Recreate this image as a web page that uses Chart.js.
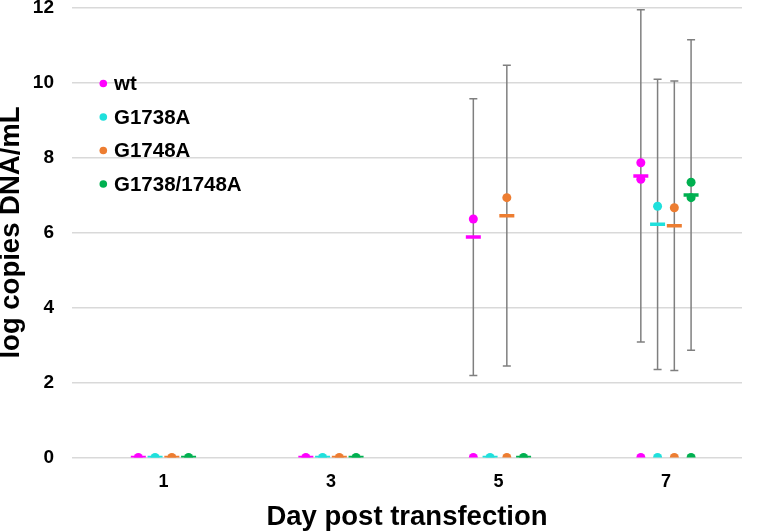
<!DOCTYPE html>
<html>
<head>
<meta charset="utf-8">
<script src="https://cdn.jsdelivr.net/npm/chart.js@4.4.1/dist/chart.umd.min.js"></script>
<style>
  html, body { margin: 0; padding: 0; background: #fff; }
  #wrap { width: 770px; height: 531px; }
</style>
</head>
<body>
<div id="wrap"><canvas id="dnaChart" width="770" height="531"></canvas></div>
<script>
/* --- Data --- */
var DAYS = ["1", "3", "5", "7"];
var SERIES = ["wt", "G1738A", "G1748A", "G1738/1748A"];
var COLORS = ["#FF00FF", "#1FE0DC", "#ED7D31", "#00B050"];
var Y_TICKS = [0, 2, 4, 6, 8, 10, 12];

// individual samples, one list per day
var WT_POINTS = [[0], [0], [6.36, 0], [7.86, 7.42, 0]];
var G1738_POINTS = [[0], [0], [0], [6.70, 0]];
var G1748_POINTS = [[0], [0], [6.93, 0], [6.66, 0]];
var DOUBLE_POINTS = [[0], [0], [0], [7.34, 6.93, 0]];

// group means (the short bars) and error bar half-lengths
var WT_MEAN = [0, 0, 5.88, 7.51];
var G1738_MEAN = [0, 0, 0, 6.22];
var G1748_MEAN = [0, 0, 6.45, 6.18];
var DOUBLE_MEAN = [0, 0, 0, 7.0];

var WT_SD = [0, 0, 3.69, 4.43];
var G1738_SD = [0, 0, 0, 3.87];
var G1748_SD = [0, 0, 4.01, 3.86];
var DOUBLE_SD = [0, 0, 0, 4.14];

var POINTS = [WT_POINTS, G1738_POINTS, G1748_POINTS, DOUBLE_POINTS];
var MEANS = [WT_MEAN, G1738_MEAN, G1748_MEAN, DOUBLE_MEAN];
var SDS = [WT_SD, G1738_SD, G1748_SD, DOUBLE_SD];

/* --- Helpers --- */
var OFFSETS = [-0.15, -0.05, 0.05, 0.15];
var FONT = "'Liberation Sans', Arial, Helvetica, sans-serif";

function pointsData(lists, k) {
  var out = [];
  lists.forEach(function (vals, i) {
    vals.forEach(function (v) {
      out.push({ x: i + 1 + OFFSETS[k], y: v });
    });
  });
  return out;
}

function meanData(means, k) {
  return means.map(function (m, i) {
    return { x: i + 1 + OFFSETS[k], y: m };
  });
}

function errorData(means, sds, k) {
  var out = [];
  means.forEach(function (m, i) {
    if (!sds[i]) return;
    var x = i + 1 + OFFSETS[k];
    out.push({ x: x, y: m - sds[i] }, { x: x, y: m + sds[i] }, { x: x, y: null });
  });
  return out;
}

/* --- Datasets --- */
var datasets = [];
SERIES.forEach(function (name, k) {
  datasets.push({
    label: name + " error",
    data: errorData(MEANS[k], SDS[k], k),
    showLine: true,
    spanGaps: false,
    borderColor: "#7F7F7F",
    borderWidth: 1.5,
    pointStyle: "line",
    pointRadius: 4,
    pointBorderWidth: 1.5,
    pointBorderColor: "#7F7F7F",
    order: 3,
  });
  datasets.push({
    label: name,
    data: pointsData(POINTS[k], k),
    pointStyle: "circle",
    pointRadius: 4.5,
    pointBackgroundColor: COLORS[k],
    pointBorderWidth: 0,
    order: 2,
  });
  datasets.push({
    label: name + " mean",
    data: meanData(MEANS[k], k),
    pointStyle: "line",
    pointRadius: 7.5,
    pointBorderColor: COLORS[k],
    pointBorderWidth: 3.5,
    order: 1,
  });
});

/* --- Legend drawn inside the plot area --- */
var insideLegend = {
  id: "insideLegend",
  afterDatasetsDraw: function (chart) {
    var ctx = chart.ctx;
    var area = chart.chartArea;
    ctx.save();
    ctx.font = "bold 20.5px " + FONT;
    ctx.textBaseline = "middle";
    ctx.textAlign = "left";
    SERIES.forEach(function (name, k) {
      var y = area.top + 76 + k * 33.5;
      ctx.fillStyle = COLORS[k];
      ctx.beginPath();
      ctx.arc(area.left + 31.3, y, 3.8, 0, Math.PI * 2);
      ctx.fill();
      ctx.fillStyle = "#000";
      ctx.fillText(name, area.left + 42, y + 1);
    });
    ctx.restore();
  },
};

Chart.defaults.font.family = FONT;
Chart.defaults.color = "#000";

new Chart(document.getElementById("dnaChart"), {
  type: "scatter",
  data: { datasets: datasets },
  plugins: [insideLegend],
  options: {
    responsive: false,
    animation: false,
    layout: { autoPadding: false, padding: { top: 7.5, right: 28, bottom: 0, left: 0 } },
    plugins: {
      legend: { display: false },
      tooltip: { enabled: false },
    },
    scales: {
      x: {
        type: "linear",
        min: 0.454,
        max: 4.454,
        afterBuildTicks: function (scale) {
          scale.ticks = DAYS.map(function (d, i) {
            return { value: i + 1 };
          });
        },
        afterFit: function (scale) {
          scale.height = 73.5;
          scale.paddingLeft = 0;
          scale.paddingRight = 0;
        },
        grid: { display: false, drawTicks: false },
        border: { display: false },
        ticks: {
          autoSkip: false,
          maxRotation: 0,
          padding: 14,
          font: { size: 18, weight: "bold" },
          callback: function (v) {
            return DAYS[v - 1];
          },
        },
        title: {
          display: true,
          text: "Day post transfection",
          font: { size: 27.5, weight: "bold", lineHeight: 1 },
          padding: { top: 0, bottom: 0 },
        },
      },
      y: {
        min: 0,
        max: 12,
        afterBuildTicks: function (scale) {
          scale.ticks = Y_TICKS.map(function (v) {
            return { value: v };
          });
        },
        afterFit: function (scale) {
          scale.width = 72;
          scale.paddingTop = 0;
          scale.paddingBottom = 0;
        },
        grid: { color: "#D9D9D9", lineWidth: 1.5, drawTicks: false },
        border: { display: false },
        ticks: {
          padding: 18,
          font: { size: 19, weight: "bold", lineHeight: 0.6 },
        },
        title: {
          display: true,
          text: "log copies DNA/mL",
          font: { size: 27.5, weight: "bold", lineHeight: 1 },
          padding: { top: -2, bottom: 0 },
        },
      },
    },
  },
});
</script>
</body>
</html>
